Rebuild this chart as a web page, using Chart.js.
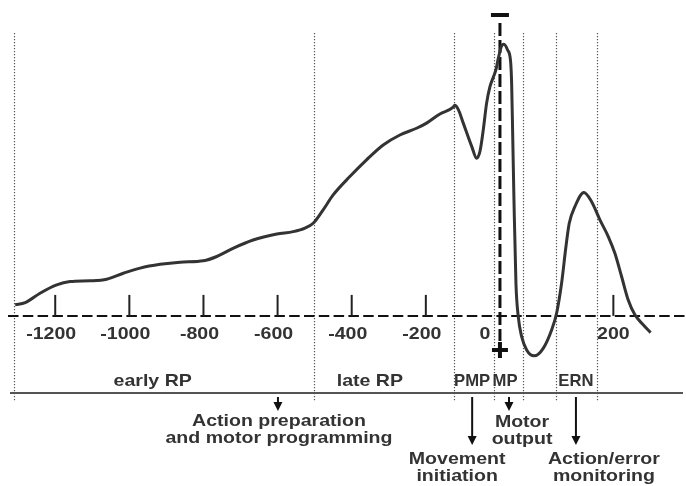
<!DOCTYPE html>
<html lang="en">
<head>
<meta charset="UTF-8" />
<title>Readiness potential and ERN</title>
<script src="https://cdn.jsdelivr.net/npm/chart.js@4.4.1/dist/chart.umd.min.js"></script>
<style>
  body { margin: 0; background: #fff; }
  #wrap { width: 686px; height: 486px; }
</style>
</head>
<body>
<div id="wrap"><canvas id="erpChart" width="686" height="486"></canvas></div>
<script>
// time relative to movement onset (ms), amplitude in µV (negative plotted up)
const timeMs = [
  -1308, -1281, -1241, -1196, -1160, -1106, -1061, -1016, -971, -917,
  -863, -800, -764, -719, -666, -602, -558, -526, -504, -477,
  -450, -405, -360, -315, -270, -225, -198, -162, -126, -122,
  -112, -99, -76, -63, -54, -45, -36, -27, -18, -11,
  -4.5, 3, 7, 13.5, 18.8, 20.6, 22.4, 24.7, 28.2, 32.3,
  38.3, 47.1, 60.5, 76.3, 91.1, 99.9, 108.7, 116.4, 122.2, 132.2,
  148.1, 161.6, 176.3, 191, 202.7, 214.5, 226.2, 238, 252.6, 265.7
];
const amplitude = [
  -0.41, -0.49, -0.84, -1.15, -1.27, -1.30, -1.36, -1.58, -1.77, -1.91,
  -1.99, -2.04, -2.20, -2.51, -2.81, -3.03, -3.12, -3.25, -3.43, -3.93,
  -4.48, -5.16, -5.78, -6.33, -6.70, -6.95, -7.14, -7.48, -7.73, -7.80,
  -7.63, -7.14, -6.27, -5.84, -6.09, -6.89, -7.88, -8.49, -8.84, -9.11,
  -9.54, -10.0, -10.06, -9.85, -9.42, -8.62, -6.78, -4.30, -1.21, 0.03,
  0.77, 1.26, 1.48, 1.20, 0.52, -0.10, -1.21, -2.57, -3.43, -4.05,
  -4.57, -4.23, -3.56, -2.94, -2.32, -1.46, -0.59, -0.04, 0.33, 0.62
];
const tickValues = [-1200, -1000, -800, -600, -400, -200, 200];
const tickLabels = ["-1200", "-1000", "-800", "-600", "-400", "-200", "200"];
const epochBounds = [-1311, -503, -123, -16, 41, 99, 171];
const epochNames = ["early RP", "late RP", "PMP", "MP", "ERN"];
const epochLabelMs = [-937, -351, -75, 9, 134];
const functionNames = [
  ["Action preparation", "and motor programming"],
  ["Movement", "initiation"],
  ["Motor", "output"],
  ["Action/error", "monitoring"]
];
const functionMs = [-599, -75, 16, 134];

// the post-movement part of the time axis is drawn stretched
const POST_STRETCH = 1.53;
const toAxis = t => (t > 0 ? t * POST_STRETCH : t);

const FONT = "bold 17px 'Liberation Sans', Arial, sans-serif";
const INK = "#333";

// lettering in the figure: lower case and digits run wide, capitals narrow
function wideText(c, s, x, y) {
  const k = /[a-z0-9]/.test(s) ? 1.15 : 0.98;
  c.save();
  c.translate(x, y);
  c.scale(k, 1);
  c.fillText(s, 0, 0);
  c.restore();
}

const decorations = {
  id: "decorations",
  beforeDatasetsDraw(chart) {
    const c = chart.ctx;
    const x = chart.scales.x, y = chart.scales.y;
    const px = t => x.getPixelForValue(toAxis(t));
    const y0 = y.getPixelForValue(0);
    c.save();

    // epoch boundaries
    c.strokeStyle = "#555";
    c.lineWidth = 1.2;
    c.setLineDash([1.2, 1.8]);
    epochBounds.forEach(t => {
      const xx = Math.round(px(t)) + 0.5;
      c.beginPath(); c.moveTo(xx, 33); c.lineTo(xx, 401); c.stroke();
    });

    // dashed baseline
    c.strokeStyle = "#111";
    c.lineWidth = 2;
    c.setLineDash([10.5, 4.3]);
    c.beginPath(); c.moveTo(8, y0); c.lineTo(686, y0); c.stroke();

    // vertical dashed line at movement onset
    c.lineWidth = 3;
    c.setLineDash([13, 4]);
    c.beginPath(); c.moveTo(px(0), 23); c.lineTo(px(0), 341); c.stroke();
    c.setLineDash([]);

    // − and + signs
    c.fillStyle = "#111";
    c.fillRect(px(0) - 9, 13, 18, 4);
    c.fillRect(px(0) - 8, 348, 16, 4);
    c.fillRect(px(0) - 2, 342, 4, 16);

    // tick marks and labels
    c.strokeStyle = "#222";
    c.lineWidth = 2;
    c.font = FONT;
    c.fillStyle = INK;
    c.textAlign = "center";
    c.textBaseline = "middle";
    tickValues.forEach((t, i) => {
      const xx = px(t);
      c.beginPath(); c.moveTo(xx, y0 - 21); c.lineTo(xx, y0); c.stroke();
      wideText(c, tickLabels[i], xx + (t < 0 ? -4 : 0), y0 + 18);
    });
    wideText(c, "0", px(0) - 15, y0 + 18);

    // epoch names and separator line
    epochNames.forEach((n, i) => wideText(c, n, px(epochLabelMs[i]), 381));
    c.strokeStyle = "#555";
    c.beginPath(); c.moveTo(10, 393); c.lineTo(683, 393); c.stroke();

    // function arrows and captions
    const arrowEnd = [411, 445, 411, 445];
    const textDx = [1, -15, 13, 28];
    const textY = [421, 459, 422, 459];
    c.strokeStyle = "#111";
    c.fillStyle = "#111";
    functionMs.forEach((t, i) => {
      const xx = px(t), tip = arrowEnd[i];
      c.beginPath(); c.moveTo(xx, 397); c.lineTo(xx, tip - 6); c.stroke();
      c.beginPath();
      c.moveTo(xx - 4.5, tip - 9); c.lineTo(xx + 4.5, tip - 9); c.lineTo(xx, tip);
      c.closePath(); c.fill();
    });
    c.fillStyle = INK;
    functionNames.forEach((lines, i) => {
      const xx = px(functionMs[i]) + textDx[i];
      lines.forEach((ln, j) => wideText(c, ln, xx, textY[i] + j * 17.5));
    });
    c.restore();
  }
};

new Chart(document.getElementById("erpChart"), {
  type: "line",
  data: {
    datasets: [{
      data: timeMs.map((t, i) => ({ x: toAxis(t), y: amplitude[i] })),
      borderColor: "#333",
      borderWidth: 3,
      pointRadius: 0,
      fill: false,
      cubicInterpolationMode: "monotone"
    }]
  },
  options: {
    responsive: false,
    animation: false,
    layout: { padding: 0 },
    plugins: { legend: { display: false }, tooltip: { enabled: false } },
    scales: {
      x: { type: "linear", min: -1349, max: 502, display: false },
      y: { min: -11.7, max: 6.3, reverse: true, display: false }
    }
  },
  plugins: [decorations]
});
</script>
</body>
</html>
